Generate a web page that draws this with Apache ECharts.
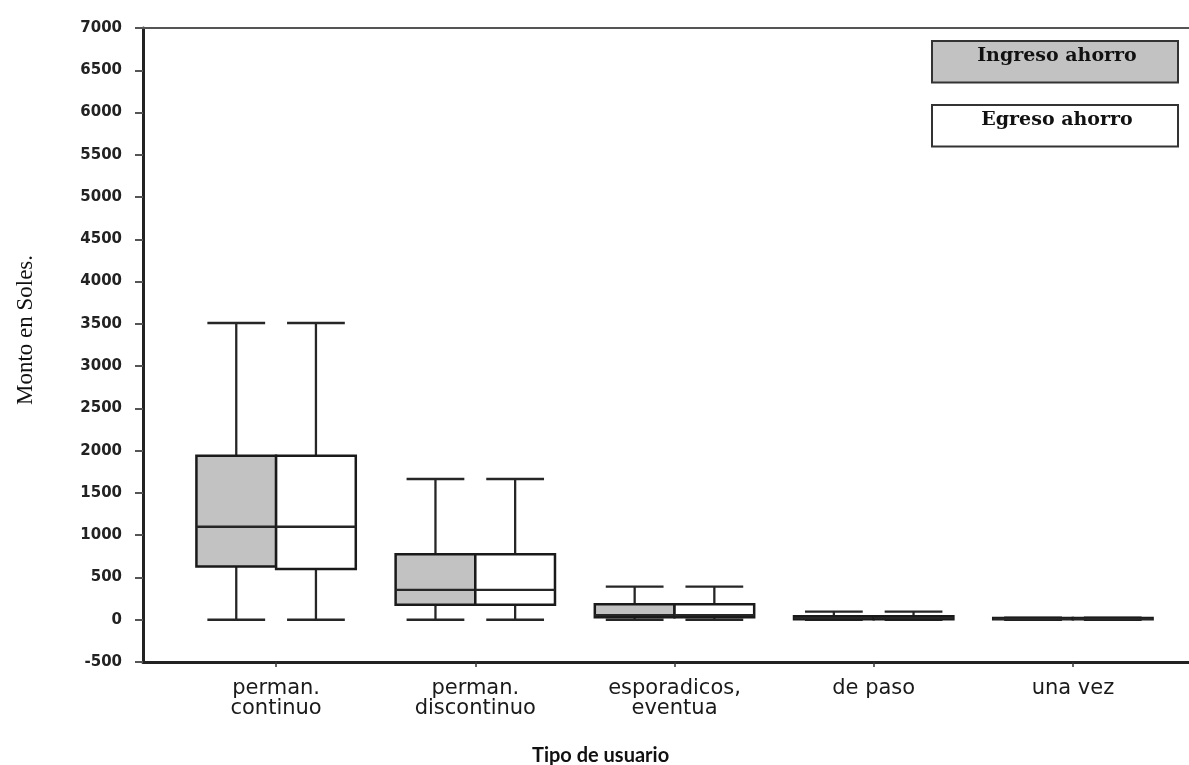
<!DOCTYPE html>
<html>
<head>
<meta charset="utf-8">
<script src="https://cdn.jsdelivr.net/npm/echarts@6/dist/echarts.min.js"></script>
<style>
html,body{margin:0;padding:0;background:#fff;}
#chart{width:1189px;height:765px;}
</style>
</head>
<body>
<div id="chart"></div>
<script>
// ---- data ----
const categories = ['perman.\ncontinuo', 'perman.\ndiscontinuo', 'esporadicos,\neventua', 'de paso', 'una vez'];
// [min, Q1, median, Q3, max]
const ingresoAhorro = [
  [0, 630, 1100, 1940, 3510],
  [0, 177, 354, 775, 1665],
  [0, 30, 55, 182, 392],
  [0, 5, 20, 40, 95],
  [0, 5, 10, 20, 25]
];
const egresoAhorro = [
  [0, 600, 1100, 1940, 3510],
  [0, 177, 354, 775, 1665],
  [0, 30, 55, 182, 392],
  [0, 5, 20, 40, 95],
  [0, 5, 10, 20, 25]
];
const seriesNames = ['Ingreso ahorro', 'Egreso ahorro'];
const yMin = -500, yMax = 7000, yStep = 500;

function toRows(arr) { return arr.map((v, i) => [i].concat(v)); }

function makeRender(side, fill) {
  return function (params, api) {
    const i = api.value(0);
    const band = api.size([1, 0])[0];
    const cx = api.coord([i, 0])[0] + side * band * 0.2;
    const w = band * 0.4, cap = band * 0.29;
    const yLo = api.coord([i, api.value(1)])[1];
    const yQ1 = api.coord([i, api.value(2)])[1];
    const yMed = api.coord([i, api.value(3)])[1];
    const yQ3 = api.coord([i, api.value(4)])[1];
    const yHi = api.coord([i, api.value(5)])[1];
    const ls = { stroke: '#262626', lineWidth: 2.3 };
    return {
      type: 'group',
      children: [
        { type: 'line', shape: { x1: cx, y1: yHi, x2: cx, y2: yQ3 }, style: ls },
        { type: 'line', shape: { x1: cx, y1: yQ1, x2: cx, y2: yLo }, style: ls },
        { type: 'line', shape: { x1: cx - cap / 2, y1: yHi, x2: cx + cap / 2, y2: yHi }, style: ls },
        { type: 'line', shape: { x1: cx - cap / 2, y1: yLo, x2: cx + cap / 2, y2: yLo }, style: ls },
        { type: 'rect', shape: { x: cx - w / 2, y: yQ3, width: w, height: Math.max(yQ1 - yQ3, 1) },
          style: { fill: fill, stroke: '#1a1a1a', lineWidth: 2.5 } },
        { type: 'line', shape: { x1: cx - w / 2, y1: yMed, x2: cx + w / 2, y2: yMed }, style: ls }
      ]
    };
  };
}

const chart = echarts.init(document.getElementById('chart'), null, { renderer: 'canvas' });

function legendBox(name, fill, top) {
  return {
    data: [name],
    left: 932, top: top,
    orient: 'vertical',
    icon: 'none',
    itemWidth: 0, itemHeight: 20,
    selectedMode: false,
    backgroundColor: fill,
    borderColor: '#333', borderWidth: 2,
    padding: [5, 3, 17, 2],
    formatter: '{a|{name}}',
    textStyle: {
      rich: {
        a: { width: 236, align: 'center', fontFamily: 'DejaVu Serif', fontWeight: 'bold',
             fontSize: 19, lineHeight: 20, color: '#111' }
      }
    }
  };
}

chart.setOption({
  backgroundColor: '#fff',
  animation: false,
  title: {
    text: 'Tipo de usuario',
    left: 532, top: 746,
    padding: 0,
    textStyle: { fontFamily: 'Lato', fontWeight: 'bold', fontSize: 20, color: '#111' }
  },
  legend: [
    legendBox(seriesNames[0], '#c2c2c2', 41),
    legendBox(seriesNames[1], '#ffffff', 105)
  ],
  grid: [
    { left: 176.5, right: 16.5, top: 28, bottom: 103 },
    { left: 143, right: 0, top: 28, bottom: 103 }
  ],
  xAxis: [
    {
      type: 'category', gridIndex: 0, data: categories,
      axisLine: { show: false, onZero: false },
      axisTick: { show: true, alignWithLabel: true, length: 5, lineStyle: { color: '#333', width: 1.5 } },
      axisLabel: { fontFamily: 'DejaVu Sans', fontSize: 21, color: '#1a1a1a', margin: 17, lineHeight: 20, interval: 0 },
      splitLine: { show: false }
    },
    {
      type: 'value', gridIndex: 1, min: 0, max: 1, position: 'bottom',
      axisLine: { show: true, onZero: false, lineStyle: { color: '#222', width: 3 } },
      axisTick: { show: false }, axisLabel: { show: false }, splitLine: { show: false }
    },
    {
      type: 'value', gridIndex: 1, min: 0, max: 1, position: 'top',
      axisLine: { show: true, onZero: false, lineStyle: { color: '#555', width: 2 } },
      axisTick: { show: false }, axisLabel: { show: false }, splitLine: { show: false }
    }
  ],
  yAxis: [
    { type: 'value', gridIndex: 0, min: yMin, max: yMax, interval: yStep, show: false },
    {
      type: 'value', gridIndex: 1, min: yMin, max: yMax, interval: yStep,
      name: 'Monto en Soles.', nameLocation: 'middle', nameRotate: 90, nameGap: 106,
      nameTextStyle: { fontFamily: 'Liberation Serif', fontSize: 23, color: '#111', padding: [0, 0, 0, 30] },
      axisLine: { show: true, onZero: false, lineStyle: { color: '#222', width: 3 } },
      axisTick: { show: true, length: 8, lineStyle: { color: '#555', width: 2 } },
      axisLabel: { fontFamily: 'DejaVu Sans', fontWeight: 'bold', fontSize: 15, color: '#222', margin: 21,
                   formatter: function (v) { return String(v); } },
      splitLine: { show: false }
    }
  ],
  series: [
    {
      name: seriesNames[0], type: 'custom', xAxisIndex: 0, yAxisIndex: 0,
      renderItem: makeRender(-1, '#c2c2c2'),
      encode: { x: 0, y: [1, 2, 3, 4, 5] },
      data: toRows(ingresoAhorro)
    },
    {
      name: seriesNames[1], type: 'custom', xAxisIndex: 0, yAxisIndex: 0,
      renderItem: makeRender(1, '#ffffff'),
      encode: { x: 0, y: [1, 2, 3, 4, 5] },
      data: toRows(egresoAhorro)
    }
  ]
});
</script>
</body>
</html>
